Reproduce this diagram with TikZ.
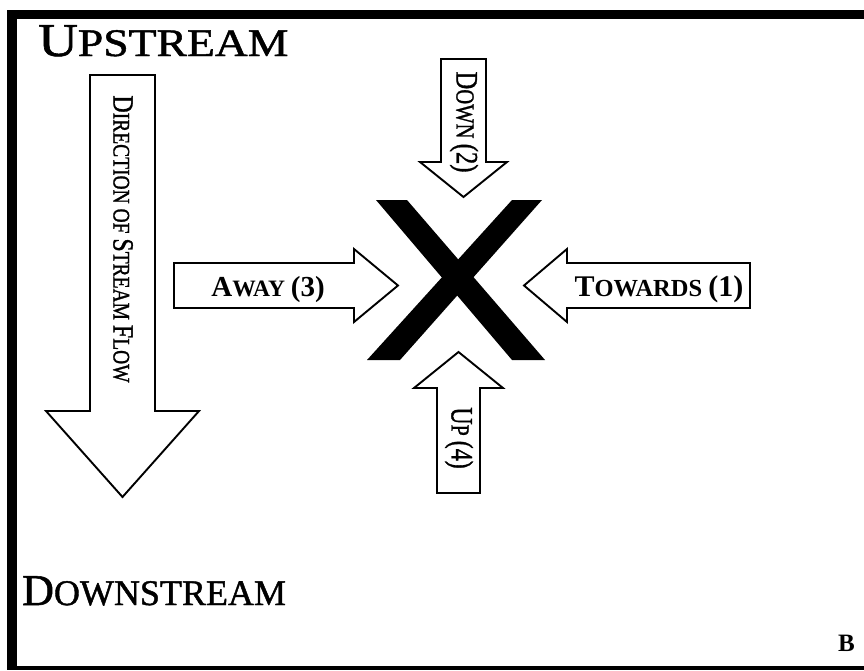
\documentclass[tikz,border=0pt]{standalone}
\usepackage{fontspec}
\setmainfont{Liberation Serif}
\newfontfamily\thickserif[FakeBold=1.2]{Liberation Serif}
\newcommand{\setfs}[1]{\fontsize{#1}{#1}\selectfont}
\begin{document}
\begin{tikzpicture}[x=1pt,y=-1pt,
  blockarrow/.style={draw=black, line width=1.9pt, fill=white, line join=miter},
  band/.style={fill=black},
  lbl/.style={inner sep=0pt, text=black}]
\useasboundingbox (0,0) rectangle (864,670);

% frame bands (top, left, bottom)
\fill[band] (7,9.5) rectangle (864,19);
\fill[band] (7,9.5) rectangle (17,670);
\fill[band] (7,666) rectangle (864,670);

% the large X
\fill[black] (376,200) -- (407,200) -- (545,360) -- (512,360) -- cycle;
\fill[black] (512,200) -- (542,200) -- (400,360) -- (367,360) -- cycle;

% stream-flow arrow
\draw[blockarrow] (90,75) -- (155,75) -- (155,411) -- (199,411) -- (122.5,497)
  -- (46,411) -- (90,411) -- cycle;
% down arrow
\draw[blockarrow] (441,59) -- (486,59) -- (486,162) -- (507,162) -- (463.5,197)
  -- (420,162) -- (441,162) -- cycle;
% up arrow
\draw[blockarrow] (437,493) -- (480,493) -- (480,388) -- (503,388) -- (458.5,352)
  -- (414,388) -- (437,388) -- cycle;
% away arrow
\draw[blockarrow] (174,263) -- (354,263) -- (354,249) -- (398,285.5) -- (354,322)
  -- (354,308) -- (174,308) -- cycle;
% towards arrow
\draw[blockarrow] (750,263) -- (567,263) -- (567,249) -- (524,285.5) -- (567,322)
  -- (567,308) -- (750,308) -- cycle;

% labels
\node[lbl, anchor=base west] (up) at (38,56)
  {\thickserif\scalebox{1.17}[1]{\setfs{47}U\setfs{39}PSTREAM}};
\node[lbl, anchor=base west] (down) at (22,605)
  {\thickserif\setfs{44}D\setfs{36}OWNSTREAM};
\node[lbl, anchor=base east] (panel) at (855,651) {\setfs{25}\bfseries B};

\node[lbl, rotate=-90] (flow) at (123,239)
  {\thickserif\scalebox{1}[1.22]{\setfs{24}D\setfs{19.5}IRECTION OF \setfs{24}S\setfs{19.5}TREAM \setfs{24}F\setfs{19.5}LOW}};
\node[lbl, rotate=-90] (t2) at (464,122)
  {\thickserif\scalebox{1.03}[1.3]{\setfs{24}D\setfs{20}OWN \setfs{24}(2)}};
\node[lbl, rotate=-90] (t4) at (459,438)
  {\thickserif\scalebox{1}[1.3]{\setfs{24}U\setfs{20}P \setfs{24}(4)}};

\node[lbl, anchor=base] (t3) at (268,296)
  {\bfseries\setfs{29}A\setfs{23.5}WAY \setfs{29}(3)};
\node[lbl, anchor=base] (t1) at (659,296)
  {\bfseries\setfs{30}T\setfs{24.5}OWARDS \setfs{30}(1)};
\end{tikzpicture}
\end{document}
